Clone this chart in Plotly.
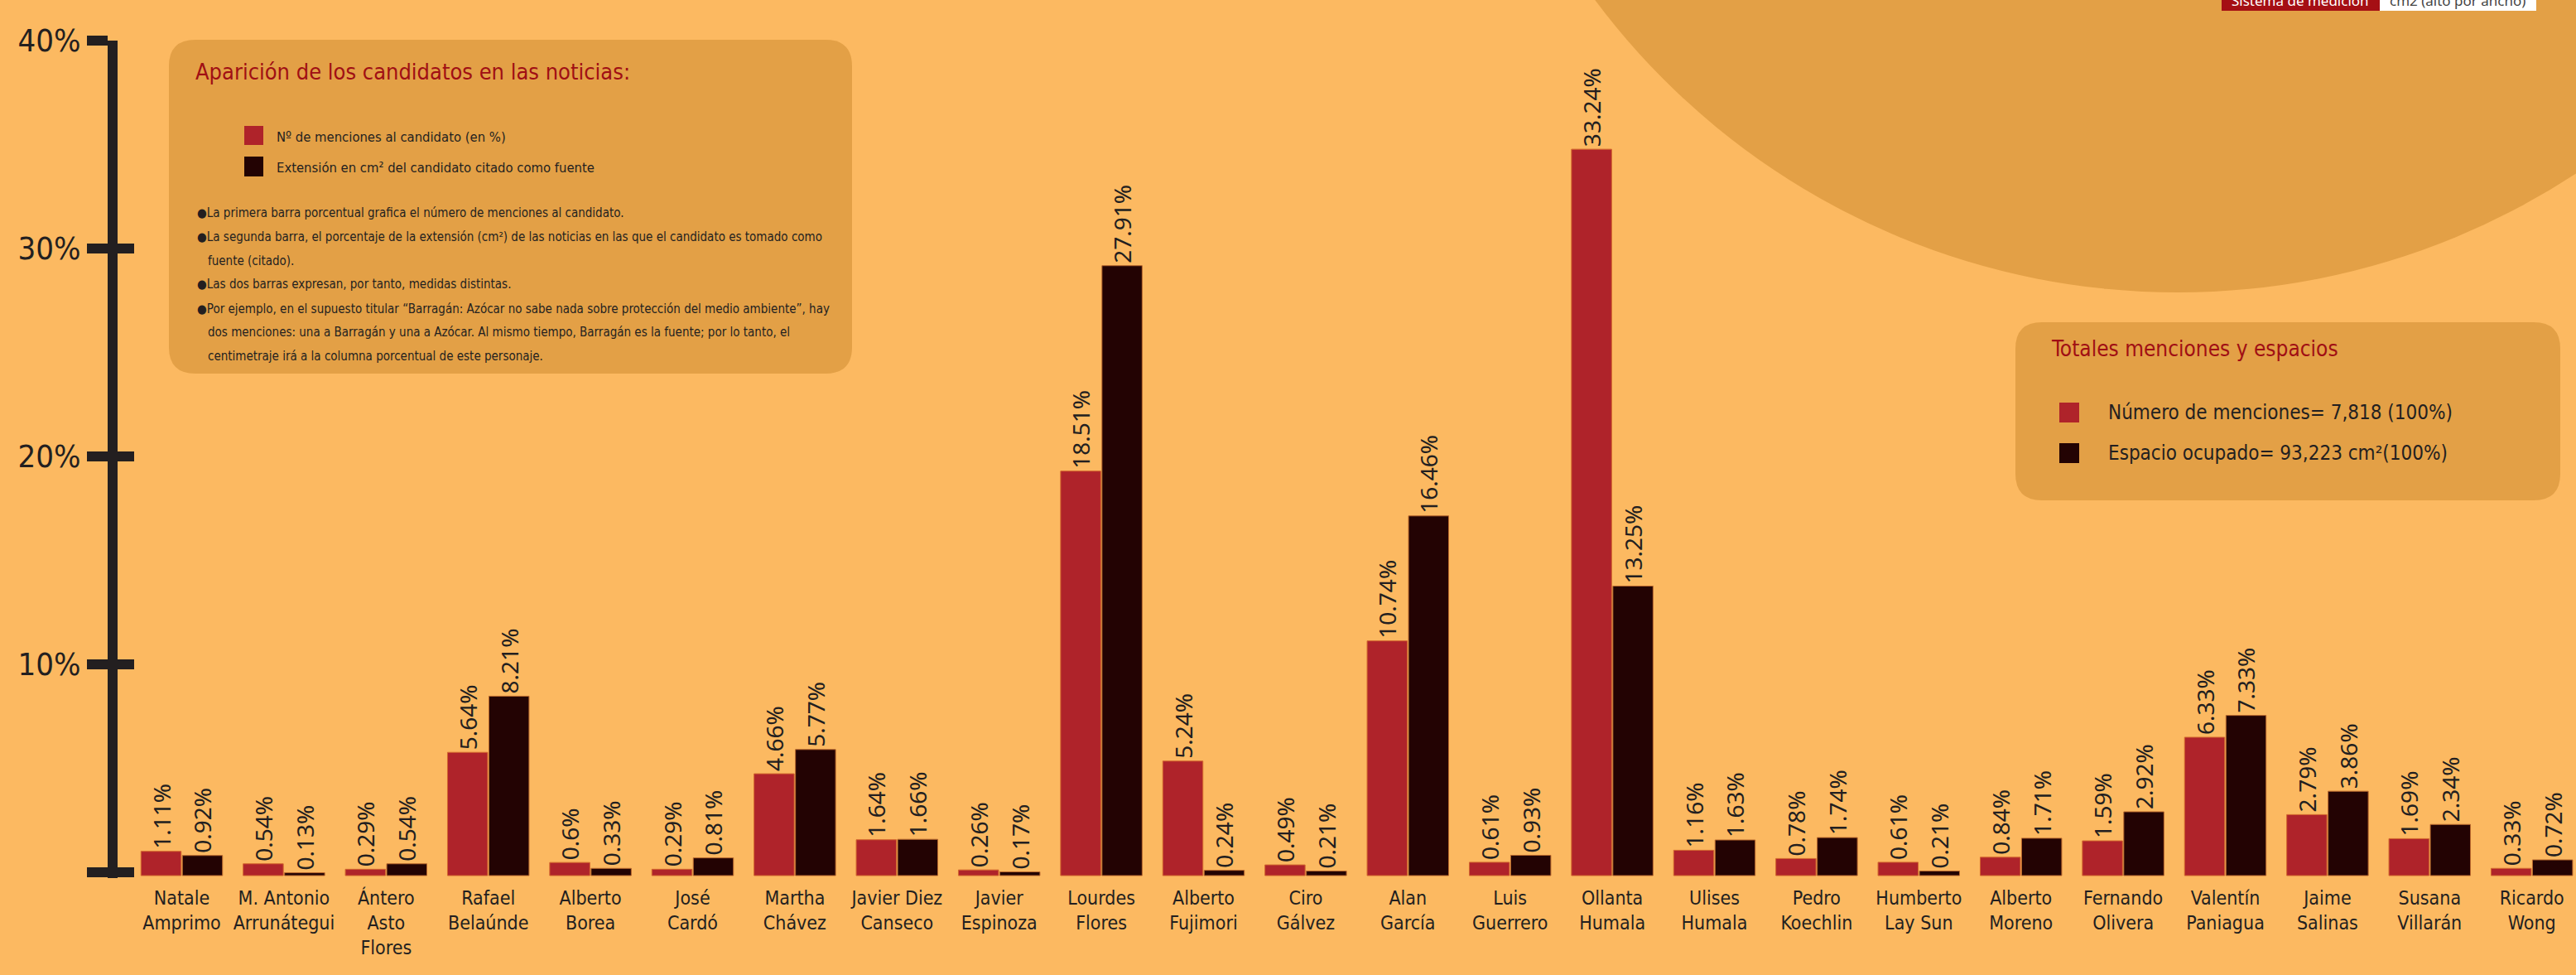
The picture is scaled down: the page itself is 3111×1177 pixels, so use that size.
import plotly.graph_objects as go

# ---------------- data ----------------
candidatos = [
    "Natale<br>Amprimo", "M. Antonio<br>Arrunátegui", "Ántero<br>Asto<br>Flores",
    "Rafael<br>Belaúnde", "Alberto<br>Borea", "José<br>Cardó", "Martha<br>Chávez",
    "Javier Diez<br>Canseco", "Javier<br>Espinoza", "Lourdes<br>Flores",
    "Alberto<br>Fujimori", "Ciro<br>Gálvez", "Alan<br>García", "Luis<br>Guerrero",
    "Ollanta<br>Humala", "Ulises<br>Humala", "Pedro<br>Koechlin", "Humberto<br>Lay Sun",
    "Alberto<br>Moreno", "Fernando<br>Olivera", "Valentín<br>Paniagua", "Jaime<br>Salinas",
    "Susana<br>Villarán", "Ricardo<br>Wong",
]
menciones = [1.11, 0.54, 0.29, 5.64, 0.6, 0.29, 4.66, 1.64, 0.26, 18.51, 5.24, 0.49,
             10.74, 0.61, 33.24, 1.16, 0.78, 0.61, 0.84, 1.59, 6.33, 2.79, 1.69, 0.33]
extension = [0.92, 0.13, 0.54, 8.21, 0.33, 0.81, 5.77, 1.66, 0.17, 27.91, 0.24, 0.21,
             16.46, 0.93, 13.25, 1.63, 1.74, 0.21, 1.71, 2.92, 7.33, 3.86, 2.34, 0.72]
escala_vals = [0, 10, 20, 30, 40]
escala_text = ["", "10%", "20%", "30%", "40%"]

serie_menciones = "Nº de menciones al candidato (en %)"
serie_extension = "Extensión en cm² del candidato citado como fuente"

# ---------------- style ----------------
W, H = 3111, 1177
PT, PB = 49, 1060          # plot area top / bottom in px
BG = "#FCB961"
BOX = "#E3A046"
RED = "#AF232A"
DARK = "#230303"
TITLE_RED = "#A00F14"
INK = "#231F20"
COND = "DejaVu Sans Condensed, Liberation Sans Narrow, DejaVu Sans, sans-serif"
LABF = "Noto Sans, Open Sans, DejaVu Sans, sans-serif"


def X(px):
    return px / W


def Y(py):
    return (PB - py) / (PB - PT)


def rounded(x0, y0, x1, y1, r):
    pts = [
        ("M", [(x0 + r, y0)]), ("L", [(x1 - r, y0)]), ("Q", [(x1, y0), (x1, y0 + r)]),
        ("L", [(x1, y1 - r)]), ("Q", [(x1, y1), (x1 - r, y1)]), ("L", [(x0 + r, y1)]),
        ("Q", [(x0, y1), (x0, y1 - r)]), ("L", [(x0, y0 + r)]), ("Q", [(x0, y0), (x0 + r, y0)]),
    ]
    s = ""
    for cmd, ps in pts:
        s += cmd + " " + " ".join(f"{X(a):.5f},{Y(b):.5f}" for a, b in ps) + " "
    return s + "Z"


fig = go.Figure()
fig.add_trace(go.Bar(
    x=candidatos, y=menciones, name=serie_menciones,
    marker=dict(color=RED, line=dict(color="#D2662E", width=1)),
    text=[f"{v:g}%" for v in menciones], textposition="outside", textangle=-90,
    textfont=dict(family=LABF, size=28, color=INK), cliponaxis=False,
    constraintext="none", hoverinfo="x+y",
))
fig.add_trace(go.Bar(
    x=candidatos, y=extension, name=serie_extension,
    marker=dict(color=DARK, line=dict(color="#B8682E", width=1)),
    text=[f"{v:g}%" for v in extension], textposition="outside", textangle=-90,
    textfont=dict(family=LABF, size=28, color=INK), cliponaxis=False,
    constraintext="none", hoverinfo="x+y",
))
# invisible traces to host the decorative % scale axes
fig.add_trace(go.Scatter(x=[candidatos[0]], y=[0], yaxis="y2", mode="markers",
                         marker=dict(opacity=0), showlegend=False, hoverinfo="skip"))
fig.add_trace(go.Scatter(x=[candidatos[0]], y=[0], yaxis="y3", mode="markers",
                         marker=dict(opacity=0), showlegend=False, hoverinfo="skip"))

px_per_pct_bar = 26.38
base_bar = 1057
yr = [(base_bar - PB) / px_per_pct_bar, (base_bar - PT) / px_per_pct_bar]
px_per_pct_axis = (1053 - 49) / 40
y2r = [-(PB - 1053) / px_per_pct_axis, 40]

spacing = 123.4
c0 = 219.5
xr = [(0 - c0) / spacing, (W - c0) / spacing]

axis_pos = 136 / W

shapes = [
    dict(type="circle", xref="paper", yref="paper", layer="below",
         x0=X(2630 - 878), x1=X(2630 + 878), y0=Y(-525 + 878), y1=Y(-525 - 878),
         fillcolor=BOX, line=dict(width=0)),
    dict(type="path", xref="paper", yref="paper", layer="below",
         path=rounded(204, 48, 1029, 451, 32), fillcolor=BOX, line=dict(width=0)),
    dict(type="path", xref="paper", yref="paper", layer="below",
         path=rounded(2434, 389, 3092, 604, 32), fillcolor=BOX, line=dict(width=0)),
    # legend swatches
    dict(type="rect", xref="paper", yref="paper", x0=X(295), x1=X(318), y0=Y(152), y1=Y(175),
         fillcolor=RED, line=dict(width=0)),
    dict(type="rect", xref="paper", yref="paper", x0=X(295), x1=X(318), y0=Y(189), y1=Y(213),
         fillcolor=DARK, line=dict(width=0)),
    dict(type="rect", xref="paper", yref="paper", x0=X(2487), x1=X(2511), y0=Y(486), y1=Y(510),
         fillcolor=RED, line=dict(width=0)),
    dict(type="rect", xref="paper", yref="paper", x0=X(2487), x1=X(2511), y0=Y(535), y1=Y(559),
         fillcolor=DARK, line=dict(width=0)),
    # top-right header strip
    dict(type="rect", xref="paper", yref="paper", x0=X(2683), x1=X(2874), y0=Y(13), y1=Y(-40),
         fillcolor="#A50F14", line=dict(width=0)),
    dict(type="rect", xref="paper", yref="paper", x0=X(2874), x1=X(3063), y0=Y(13), y1=Y(-40),
         fillcolor="white", line=dict(width=0)),
]


def ann(text, px, py, size, color=INK, family=COND, xanchor="left"):
    return dict(text=text, x=X(px), y=Y(py), xref="paper", yref="paper",
                xanchor=xanchor, yanchor="middle", showarrow=False,
                font=dict(family=family, size=size, color=color))


bullets = [
    ("●La primera barra porcentual grafica el número de menciones al candidato.", 236, 257),
    ("●La segunda barra, el porcentaje de la extensión (cm²) de las noticias en las que el candidato es tomado como", 236, 286),
    ("fuente (citado).", 249, 315),
    ("●Las dos barras expresan, por tanto, medidas distintas.", 236, 343),
    ("●Por ejemplo, en el supuesto titular “Barragán: Azócar no sabe nada sobre protección del medio ambiente”, hay", 236, 373),
    ("dos menciones: una a Barragán y una a Azócar. Al mismo tiempo, Barragán es la fuente; por lo tanto, el", 249, 401),
    ("centimetraje irá a la columna porcentual de este personaje.", 249, 430),
]

annotations = [
    ann("Aparición de los candidatos en las noticias:", 234, 86, 27, TITLE_RED),
    ann(serie_menciones, 332, 165, 16.5),
    ann(serie_extension, 332, 202, 16.5),
    ann("Totales menciones y espacios", 2475, 421, 26, TITLE_RED),
    ann("Número de menciones= 7,818 (100%)", 2544, 498, 24),
    ann("Espacio ocupado= 93,223 cm²(100%)", 2544, 547, 24),
    ann("Sistema de medición", 2778, 1, 17, "white", LABF, "center"),
    ann("cm2 (alto por ancho)", 2968, 1, 17, "#444444", LABF, "center"),
] + [ann(t, x, y, 15) for t, x, y in bullets]

fig.update_layout(
    width=W, height=H,
    margin=dict(l=0, r=0, t=PT, b=H - PB, pad=0, autoexpand=False),
    paper_bgcolor=BG, plot_bgcolor="rgba(0,0,0,0)",
    barmode="group", bargap=0.19, bargroupgap=0.03,
    showlegend=False,
    xaxis=dict(range=xr, showgrid=False, zeroline=False, showline=False, ticks="",
               tickfont=dict(family=COND, size=23, color=INK), tickangle=0,
               ticklabelstandoff=8, automargin=False, fixedrange=True),
    yaxis=dict(range=yr, visible=False, showgrid=False, zeroline=False,
               automargin=False, fixedrange=True),
    yaxis2=dict(overlaying="y", anchor="free", position=axis_pos, side="left",
                range=y2r, showgrid=False, zeroline=False,
                showline=True, linewidth=12, linecolor=INK,
                ticks="outside", ticklen=25, tickwidth=12, tickcolor=INK,
                tickmode="array", tickvals=escala_vals, ticktext=escala_text,
                tickfont=dict(family=COND, size=38, color=INK),
                automargin=False, fixedrange=True),
    yaxis3=dict(overlaying="y", anchor="free", position=axis_pos, side="left",
                range=y2r, showgrid=False, zeroline=False, showline=False,
                ticks="inside", ticklen=25, tickwidth=12, tickcolor=INK,
                tickmode="array", tickvals=escala_vals, showticklabels=False,
                automargin=False, fixedrange=True),
    shapes=shapes,
    annotations=annotations,
)

fig.write_html(
    "out.html",
    config={"displayModeBar": False},
    post_script="document.body.style.margin='0';document.body.style.padding='0';"
                "document.body.style.background='#FCB961';"
                "document.body.style.overflow='hidden';",
)
